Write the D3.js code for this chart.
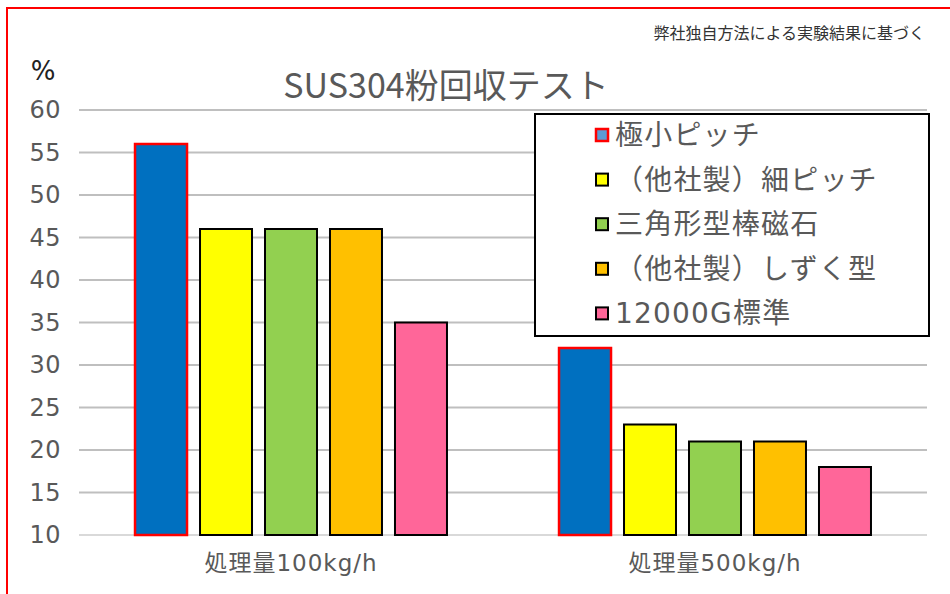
<!DOCTYPE html>
<html lang="ja">
<head>
<meta charset="UTF-8">
<title>SUS304粉回収テスト</title>
<script src="https://d3js.org/d3.v7.min.js"></script>
<style>
  html, body { margin: 0; padding: 0; background: #fff; }
  svg { display: block; }
  .jp { font-family: "Noto Sans CJK JP", "Noto Sans", sans-serif; }
  .num { font-family: "DejaVu Sans", "Noto Sans CJK JP", sans-serif; }
</style>
</head>
<body>
<svg id="chart"></svg>
<script>
// chart data
const groups = ["処理量100kg/h", "処理量500kg/h"];
const series = ["極小ピッチ", "（他社製）細ピッチ", "三角形型棒磁石", "（他社製）しずく型", "12000G標準"];
const values100 = [56, 46, 46, 46, 35];
const values500 = [32, 23, 21, 21, 18];
const yTicks = [10, 15, 20, 25, 30, 35, 40, 45, 50, 55, 60];

const fills = ["#0070c0", "#ffff00", "#92d050", "#ffc000", "#ff6699"];
const legendFills = ["#5b9bd5", "#ffff00", "#92d050", "#ffc000", "#ff6699"];
const strokes = ["#ff0000", "#000", "#000", "#000", "#000"];

const W = 950, H = 594;
const plot = { left: 79, right: 927, top: 110, bottom: 535 };

const svg = d3.select("#chart").attr("width", W).attr("height", H);

// red frame (open to the right and bottom)
svg.append("path")
  .attr("d", `M7,${H + 5} L7,8 L${W + 5},8`)
  .attr("fill", "none")
  .attr("stroke", "#ff0000")
  .attr("stroke-width", 2);

const y = d3.scaleLinear().domain([10, 60]).range([plot.bottom, plot.top]);
const x0 = d3.scaleBand().domain(groups).range([plot.left, plot.right]).padding(0);
const x1 = d3.scaleBand().domain(series).range([0, x0.bandwidth()])
  .paddingInner(0.2).paddingOuter(0.862);

// grid lines
svg.append("g").selectAll("line")
  .data(yTicks)
  .join("line")
  .attr("x1", plot.left).attr("x2", plot.right)
  .attr("y1", d => y(d)).attr("y2", d => y(d))
  .attr("stroke", d => d === 10 ? "#d9d9d9" : "#bfbfbf")
  .attr("stroke-width", 2);

// y axis labels
const yAxis = svg.append("g")
  .attr("transform", `translate(${plot.left - 18},0)`)
  .call(d3.axisLeft(y).tickValues(yTicks).tickSize(0).tickPadding(0));
yAxis.select(".domain").remove();
yAxis.selectAll("text")
  .attr("font-size", 24)
  .attr("fill", "#595959")
  .attr("letter-spacing", 0.5)
  .style("font-family", "'DejaVu Sans', sans-serif");

// x axis labels
const xAxis = svg.append("g")
  .attr("transform", `translate(0,${plot.bottom})`)
  .call(d3.axisBottom(x0).tickSize(0).tickPadding(20));
xAxis.select(".domain").remove();
xAxis.selectAll("text")
  .attr("font-size", 23)
  .attr("fill", "#595959")
  .attr("letter-spacing", 1)
  .style("font-family", "'DejaVu Sans', 'Noto Sans CJK JP', sans-serif");

// bars
const data = [values100, values500];
const gGroups = svg.append("g").selectAll("g")
  .data(groups)
  .join("g")
  .attr("transform", d => `translate(${x0(d)},0)`);

gGroups.selectAll("rect")
  .data((g, gi) => series.map((s, i) => ({ s, i, v: data[gi][i] })))
  .join("rect")
  .attr("x", d => x1(d.s))
  .attr("width", x1.bandwidth())
  .attr("y", d => y(d.v))
  .attr("height", d => y(10) - y(d.v))
  .attr("fill", d => fills[d.i])
  .attr("stroke", d => strokes[d.i])
  .attr("stroke-width", d => d.i === 0 ? 2.5 : 2);

// legend
const legend = svg.append("g");
legend.append("rect")
  .attr("x", 535).attr("y", 114)
  .attr("width", 394).attr("height", 222)
  .attr("fill", "#fff")
  .attr("stroke", "#000")
  .attr("stroke-width", 2);

const rows = legend.selectAll("g.row")
  .data(series)
  .join("g")
  .attr("class", "row")
  .attr("transform", (d, i) => `translate(596,${135 + i * 44.6})`);

rows.append("rect")
  .attr("x", 0).attr("y", -6)
  .attr("width", 12).attr("height", 12)
  .attr("fill", (d, i) => legendFills[i])
  .attr("stroke", (d, i) => strokes[i])
  .attr("stroke-width", (d, i) => i === 0 ? 2.5 : 2);

rows.append("text")
  .attr("x", 19)
  .attr("y", 0)
  .attr("dy", "0.36em")
  .attr("font-size", 28)
  .attr("fill", "#595959")
  .attr("letter-spacing", 1.2)
  .style("font-family", "'DejaVu Sans', 'Noto Sans CJK JP', sans-serif")
  .text(d => d);

// title and notes
svg.append("text")
  .attr("class", "jp")
  .attr("x", 446).attr("y", 98)
  .attr("text-anchor", "middle")
  .attr("font-size", 34)
  .attr("fill", "#595959")
  .text("SUS304粉回収テスト");

svg.append("text")
  .attr("class", "jp")
  .attr("x", 925).attr("y", 39)
  .attr("text-anchor", "end")
  .attr("font-size", 16)
  .attr("fill", "#333")
  .text("弊社独自方法による実験結果に基づく");

svg.append("text")
  .attr("class", "num")
  .attr("x", 43).attr("y", 80)
  .attr("text-anchor", "middle")
  .attr("font-size", 26)
  .attr("fill", "#222")
  .text("%");
</script>
</body>
</html>
